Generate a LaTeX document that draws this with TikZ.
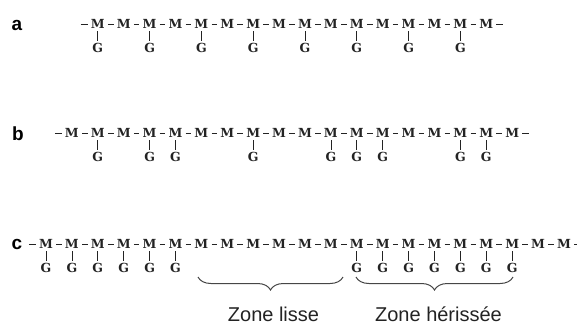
\documentclass[tikz,border=0pt]{standalone}
\usepackage{fontspec}
\usetikzlibrary{calc, decorations.pathreplacing}
\newfontfamily\chainfont{DejaVu Serif}
\newfontfamily\tagfont{Liberation Sans}
\definecolor{InkGray}{RGB}{35, 35, 35}
\definecolor{BraceGray}{RGB}{70, 70, 70}

\begin{document}
\begin{tikzpicture}[
        x=1pt, y=-1pt,
        unit/.style={inner sep=0pt, text=InkGray, font=\chainfont\bfseries\fontsize{12.5}{13}\selectfont},
        bond/.style={InkGray, line width=0.8pt, shorten <=3pt, shorten >=3pt},
        side/.style={InkGray, line width=0.7pt, shorten <=2.5pt, shorten >=2.5pt},
        rowtag/.style={inner sep=0pt, font=\tagfont\bfseries\fontsize{19}{19}\selectfont},
        zone/.style={inner sep=0pt, text=InkGray, font=\tagfont\fontsize{20}{20}\selectfont},
        zonebrace/.style={decorate, decoration={brace, mirror, amplitude=13pt}, BraceGray, line width=1pt}
    ]
    \useasboundingbox (0,0) rectangle (577,327);

    % chain a
    \node[rowtag] (taga) at (17,25) {a};
    \foreach \i in {1,...,16}
        \node[unit] (a\i) at ({46+25.9*(\i+1)},24) {M};
    \coordinate (aL) at ($(a1.west)+(-13,0)$);
    \coordinate (aR) at ($(a16.east)+(13,0)$);
    \draw[bond] (aL) -- (a1);
    \foreach \j [count=\i] in {2,...,16}
        \draw[bond] (a\i) -- (a\j);
    \draw[bond] (a16) -- (aR);
    \foreach \i in {1,3,...,15} {
        \node[unit] (ga\i) at ($(a\i)+(0,24)$) {G};
        \draw[side] (a\i) -- (ga\i);
    }

    % chain b
    \node[rowtag] (tagb) at (18,134) {b};
    \foreach \i in {1,...,18}
        \node[unit] (b\i) at ({46+25.9*\i},133) {M};
    \coordinate (bL) at ($(b1.west)+(-13,0)$);
    \coordinate (bR) at ($(b18.east)+(13,0)$);
    \draw[bond] (bL) -- (b1);
    \foreach \j [count=\i] in {2,...,18}
        \draw[bond] (b\i) -- (b\j);
    \draw[bond] (b18) -- (bR);
    \foreach \i in {2,4,5,8,11,12,13,16,17} {
        \node[unit] (gb\i) at ($(b\i)+(0,24)$) {G};
        \draw[side] (b\i) -- (gb\i);
    }

    % chain c
    \node[rowtag] (tagc) at (17,244) {c};
    \foreach \i in {1,...,21}
        \node[unit] (c\i) at ({46+25.9*(\i-1)},244) {M};
    \coordinate (cL) at ($(c1.west)+(-13,0)$);
    \coordinate (cR) at ($(c21.east)+(13,0)$);
    \draw[bond] (cL) -- (c1);
    \foreach \j [count=\i] in {2,...,21}
        \draw[bond] (c\i) -- (c\j);
    \draw[bond] (c21) -- (cR);
    \foreach \i in {1,...,6,13,14,...,19} {
        \node[unit] (gc\i) at ($(c\i)+(0,24)$) {G};
        \draw[side] (c\i) -- (gc\i);
    }

    % zones
    \coordinate (lisseL) at (198,277);
    \coordinate (lisseR) at (343,277);
    \coordinate (herisL) at (356,277);
    \coordinate (herisR) at (513,277);
    \draw[zonebrace] (lisseL) -- (lisseR);
    \draw[zonebrace] (herisL) -- (herisR);
    \node[zone] (lisse) at ($(lisseL)!0.5!(lisseR)+(3,37)$) {Zone lisse};
    \node[zone] (heris) at ($(herisL)!0.5!(herisR)+(4,37)$) {Zone hérissée};
\end{tikzpicture}
\end{document}
